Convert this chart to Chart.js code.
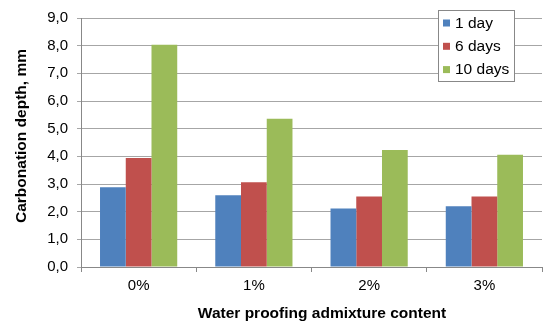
<!DOCTYPE html>
<html>
<head>
<meta charset="utf-8">
<script src="https://cdn.jsdelivr.net/npm/chart.js@4/dist/chart.umd.min.js"></script>
<style>
html,body{margin:0;padding:0;background:#fff;}
#wrap{width:543px;height:333px;position:relative;}
</style>
</head>
<body>
<div id="wrap"><canvas id="c" width="543" height="333"></canvas></div>
<script>
const categories = ['0%', '1%', '2%', '3%'];
const seriesNames = ['1 day', '6 days', '10 days'];
const day1 = [2.88, 2.59, 2.11, 2.20];
const day6 = [3.94, 3.06, 2.55, 2.55];
const day10 = [8.03, 5.36, 4.23, 4.06];
const yTickLabels = ['0,0','1,0','2,0','3,0','4,0','5,0','6,0','7,0','8,0','9,0'];
const xTitle = 'Water proofing admixture content';
const yTitle = 'Carbonation depth, mm';
const colors = ['#4F81BD', '#C0504D', '#9BBB59'];

const FONT = "'Liberation Sans', Arial, sans-serif";

const legendAndTitles = {
  id: 'legendAndTitles',
  afterDraw(chart) {
    const ctx = chart.ctx;
    ctx.save();
    // axis titles
    ctx.fillStyle = '#000';
    ctx.font = 'bold 15.5px ' + FONT;
    ctx.textAlign = 'center';
    ctx.textBaseline = 'middle';
    ctx.fillText(xTitle, 322, 314);
    ctx.save();
    ctx.translate(21.5, 136);
    ctx.rotate(-Math.PI / 2);
    ctx.fillText(yTitle, 0, 0);
    ctx.restore();
    // legend
    const x0 = 438, y0 = 10, w = 77, h = 72;
    ctx.fillStyle = '#fff';
    ctx.fillRect(x0, y0, w, h);
    ctx.strokeStyle = '#888';
    ctx.lineWidth = 1;
    ctx.strokeRect(x0 + 0.5, y0 + 0.5, w - 1, h - 1);
    ctx.font = '15.5px ' + FONT;
    ctx.textBaseline = 'middle';
    ctx.textAlign = 'left';
    chart.data.datasets.forEach((ds, i) => {
      const cy = 23 + i * 23.3;
      ctx.fillStyle = ds.backgroundColor;
      ctx.fillRect(443, cy - 3.5, 7, 7);
      ctx.fillStyle = '#000';
      ctx.fillText(ds.label, 455, cy + 0.5);
    });
    ctx.restore();
  }
};

new Chart(document.getElementById('c'), {
  type: 'bar',
  data: {
    labels: categories,
    datasets: [
      { label: seriesNames[0], data: day1, backgroundColor: colors[0] },
      { label: seriesNames[1], data: day6, backgroundColor: colors[1] },
      { label: seriesNames[2], data: day10, backgroundColor: colors[2] }
    ]
  },
  options: {
    responsive: false,
    animation: false,
    devicePixelRatio: 1,
    categoryPercentage: 0.67,
    barPercentage: 1.0,
    layout: { padding: { left: 10, right: 1, top: 15, bottom: 7 } },
    plugins: {
      legend: { display: false },
      tooltip: { enabled: false }
    },
    scales: {
      x: {
        type: 'category',
        offset: true,
        grid: { display: true, drawOnChartArea: false, drawTicks: true, tickLength: 5, color: '#888', offset: true },
        border: { display: true, color: '#888' },
        ticks: { color: '#000', font: { family: FONT, size: 15 }, padding: 5 },
        title: { display: false },
        afterFit(scale) { scale.height = 59; }
      },
      y: {
        min: 0, max: 9,
        ticks: { stepSize: 1, color: '#000', font: { family: FONT, size: 15 }, padding: 9,
                 callback: (v, i) => yTickLabels[i] },
        grid: { color: '#a6a6a6', drawTicks: true, tickLength: 4 },
        border: { display: true, color: '#888' },
        title: { display: false },
        afterFit(scale) { scale.width = 71; }
      }
    }
  },
  plugins: [legendAndTitles]
});
</script>
</body>
</html>
